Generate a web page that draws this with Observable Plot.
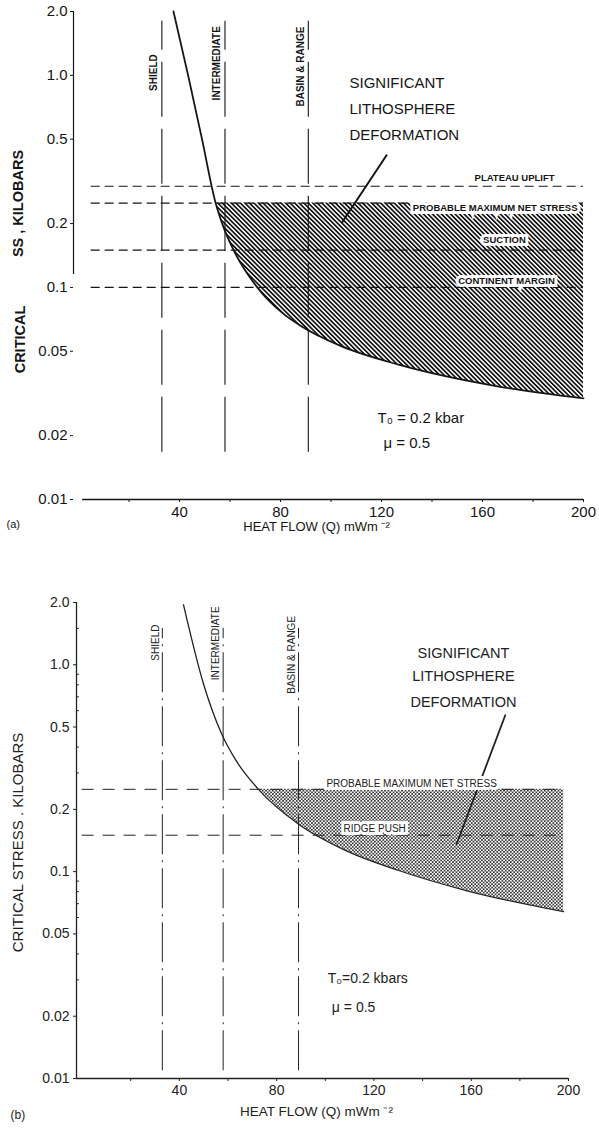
<!DOCTYPE html>
<html>
<head>
<meta charset="utf-8">
<script src="https://cdn.jsdelivr.net/npm/d3@7"></script>
<script src="https://cdn.jsdelivr.net/npm/@observablehq/plot@0.6"></script>
<style>
  body { margin: 0; background: #fff; }
  #chart svg { display: block; }
</style>
</head>
<body>
<div id="chart"></div>
<script>
// ---------- shared axis data ----------
const yTickValues = [0.01, 0.02, 0.05, 0.1, 0.2, 0.5, 1, 2];
const yTickLabels = ["0.01", "0.02", "0.05", "0.1", "0.2", "0.5", "1.0", "2.0"];
const xTickValues = [20, 40, 60, 80, 100, 120, 140, 160, 180, 200];
const xTickLabels = ["", "40", "", "80", "", "120", "", "160", "", "200"];
const bMinorTicks = [0.03, 0.04, 0.06, 0.07, 0.08, 0.09, 0.3, 0.4, 0.6, 0.7, 0.8, 0.9, 1.5];
const xTitle = "HEAT FLOW (Q) mWm \u207B\u00B2";

// ---------- panel (a) ----------
const aCurveQ = [37.6, 43.4, 48.9, 54.3, 56.9, 61.4, 70.8, 81.2, 87.9, 103.8, 127.5, 167, 200];
const aCurveS = [2.0, 1.0, 0.5, 0.25, 0.2, 0.15, 0.1, 0.075, 0.066, 0.053, 0.043, 0.034, 0.030];
const aProvinces = ["SHIELD", "INTERMEDIATE", "BASIN & RANGE"];
const aProvinceQ = [33, 58, 91];
const aProvinceSpan = [0.0167, 1.8];
const aProvinceLabelS = [1.03, 1.14, 1.10];
const aStressNames = ["PLATEAU UPLIFT", "PROBABLE MAXIMUM NET STRESS", "SUCTION", "CONTINENT MARGIN"];
const aStressS = [0.30, 0.25, 0.15, 0.10];
const aStressSpan = [5, 200];
const aStressLabelQ = [172.7, 165, 168.7, 169.5];
const aStressLabelS = [0.33, 0.236, 0.167, 0.107];
const aMaxStress = 0.25;
const aDeform = ["SIGNIFICANT", "LITHOSPHERE", "DEFORMATION"];
const aDeformQ = [107.3, 107.3, 107.3];
const aDeformS = [0.916, 0.692, 0.521];
const aLeaderQ = [122, 104.4];
const aLeaderS = [0.42, 0.203];
const aParams = ["T\u2080 = 0.2 kbar", "\u03BC = 0.5"];
const aParamQ = [118.4, 120.8];
const aParamS = [0.0241, 0.0184];

// ---------- panel (b) ----------
const bCurveQ = [41.7, 49.9, 57.5, 63.6, 72.5, 88.9, 108.7, 130.5, 157.9, 198];
const bCurveS = [1.95, 0.81, 0.46, 0.34, 0.25, 0.17, 0.126, 0.101, 0.081, 0.064];
const bProvinces = ["SHIELD", "INTERMEDIATE", "BASIN & RANGE"];
const bProvinceQ = [33, 58, 89];
const bProvinceSpan = [0.0109, 1.5];
const bProvinceLabelS = [1.28, 1.27, 1.117];
const bStressNames = ["PROBABLE MAXIMUM NET STRESS", "RIDGE PUSH"];
const bStressS = [0.25, 0.15];
const bStressSpan = [0, 198];
const bStressLabelQ = [135.5, 120.3];
const bStressLabelS = [0.266, 0.1614];
const bMaxStress = 0.25;
const bDeform = ["SIGNIFICANT", "LITHOSPHERE", "DEFORMATION"];
const bDeformQ = [156.8, 156.8, 156.8];
const bDeformS = [1.14, 0.875, 0.655];
const bLeaderQ = [174, 154];
const bLeaderS = [0.57, 0.136];
const bParams = ["T\u2080=0.2 kbars", "\u03BC = 0.5"];
const bParamQ = [101, 102.7];
const bParamS = [0.0304, 0.022];

// ---------- helpers ----------
const FONT = "'Liberation Sans', Arial, Helvetica, sans-serif";
const INK = "#151515";
const zip = (qs, ss) => qs.map((q, i) => ({q, s: ss[i]}));
const yFmt = new Map(yTickValues.map((v, i) => [v, yTickLabels[i]]));
const xFmt = new Map(xTickValues.map((v, i) => [v, xTickLabels[i]]));

// ---------- panel (a) plot ----------
const aCurve = zip(aCurveQ, aCurveS);
const aArea = aCurve.filter(d => d.s <= aMaxStress);

const svgA = Plot.plot({
  width: 599, height: 545,
  marginTop: 11, marginBottom: 46, marginLeft: 73, marginRight: 16,
  style: {fontFamily: FONT, fontSize: "15px", color: INK, background: "#fff"},
  x: {domain: [-2, 200], ticks: xTickValues, tickFormat: d => xFmt.get(d), tickSize: 3, tickPadding: 4, label: null},
  y: {type: "log", domain: [0.01, 2], ticks: yTickValues, tickFormat: d => yFmt.get(d), tickSize: 3, tickPadding: 3, label: null},
  marks: [
    Plot.areaY(aArea, {x: "q", y1: "s", y2: aMaxStress, curve: "monotone-x", fill: INK}),
    Plot.ruleY(aStressS, {y: d => d, x1: aStressSpan[0], x2: aStressSpan[1], stroke: INK, strokeWidth: 1.2, strokeDasharray: "9,5"}),
    Plot.ruleX(aProvinceQ, {x: d => d, y1: aProvinceSpan[0], y2: aProvinceSpan[1], stroke: INK, strokeWidth: 1.1, strokeDasharray: "55,12"}),
    Plot.line(aCurve, {x: "q", y: "s", curve: "monotone-x", stroke: INK, strokeWidth: 1.8}),
    Plot.ruleX([-2], {y1: 0.115, y2: 2, stroke: INK, strokeWidth: 1.2}),
    Plot.ruleY([0.01], {x1: 1.6, x2: 200, stroke: INK, strokeWidth: 1.5}),
    Plot.text(aStressNames, {x: aStressLabelQ, y: aStressLabelS, text: d => d, fontSize: 9.5, fontWeight: "bold", fill: INK, stroke: "#fff", strokeWidth: 6, strokeLinejoin: "miter"}),
    Plot.text(aProvinces, {x: aProvinceQ, y: aProvinceLabelS, text: d => d, rotate: -90, dx: -8, fontSize: 10, fontWeight: "bold", fill: INK}),
    Plot.text(aDeform, {x: aDeformQ, y: aDeformS, text: d => d, textAnchor: "start", fontSize: 15, fill: INK}),
    Plot.line(zip(aLeaderQ, aLeaderS), {x: "q", y: "s", stroke: INK, strokeWidth: 2}),
    Plot.text(aParams, {x: aParamQ, y: aParamS, text: d => d, textAnchor: "start", fontSize: 15, fill: INK}),
    Plot.text(["SS , KILOBARS"], {frameAnchor: "left", textAnchor: "middle", rotate: -90, dx: -55, dy: -52, fontSize: 14.5, fontWeight: "bold", fill: INK}),
    Plot.text(["CRITICAL"], {frameAnchor: "left", textAnchor: "middle", rotate: -90, dx: -53, dy: 84, fontSize: 14.5, fontWeight: "bold", fill: INK}),
    Plot.text([xTitle], {frameAnchor: "bottom", textAnchor: "middle", dx: -12, dy: 31, fontSize: 13, fill: INK}),
    Plot.text(["(a)"], {frameAnchor: "bottom-left", textAnchor: "start", dx: -67, dy: 28, fontSize: 11, fill: INK})
  ]
});

// ---------- panel (b) plot ----------
const bCurve = zip(bCurveQ, bCurveS);
const bArea = bCurve.filter(d => d.s <= bMaxStress);

const svgB = Plot.plot({
  width: 599, height: 589,
  marginTop: 57, marginBottom: 56, marginLeft: 76, marginRight: 31,
  style: {fontFamily: FONT, fontSize: "14px", color: "#222", background: "#fff"},
  x: {domain: [-2.3, 200], ticks: xTickValues, tickFormat: d => xFmt.get(d), tickSize: 3, tickPadding: 4, label: null},
  y: {type: "log", domain: [0.01, 2], ticks: yTickValues, tickFormat: d => yFmt.get(d), tickSize: 3, tickPadding: 4, label: null},
  marks: [
    Plot.areaY(bArea, {x: "q", y1: "s", y2: bMaxStress, curve: "monotone-x", fill: "#222"}),
    Plot.ruleY(bStressS, {y: d => d, x1: bStressSpan[0], x2: bStressSpan[1], stroke: "#222", strokeWidth: 1, strokeDasharray: "12,9"}),
    Plot.ruleX(bProvinceQ, {x: d => d, y1: bProvinceSpan[0], y2: bProvinceSpan[1], stroke: "#222", strokeWidth: 1, strokeDasharray: "40,6,2,6"}),
    Plot.line(bCurve, {x: "q", y: "s", curve: "monotone-x", stroke: "#222", strokeWidth: 1.3}),
    Plot.ruleY(bMinorTicks, {y: d => d, x1: -2.3, x2: -1.1, stroke: "#222", strokeWidth: 1}),
    Plot.ruleX([-2.3], {y1: 0.01, y2: 2, stroke: "#222", strokeWidth: 1.3}),
    Plot.ruleY([0.01], {x1: -2.3, x2: 200, stroke: "#222", strokeWidth: 1.5}),
    Plot.line(zip(bLeaderQ, bLeaderS), {x: "q", y: "s", stroke: "#222", strokeWidth: 1.8}),
    Plot.text(bStressNames, {x: bStressLabelQ, y: bStressLabelS, text: d => d, fontSize: 10, fill: "#222", stroke: "#fff", strokeWidth: 6, strokeLinejoin: "miter"}),
    Plot.text(bProvinces, {x: bProvinceQ, y: bProvinceLabelS, text: d => d, rotate: -90, dx: -7, fontSize: 10, fill: "#222"}),
    Plot.text(bDeform, {x: bDeformQ, y: bDeformS, text: d => d, fontSize: 14.5, fill: "#222"}),
    Plot.text(bParams, {x: bParamQ, y: bParamS, text: d => d, textAnchor: "start", fontSize: 14, fill: "#222"}),
    Plot.text(["CRITICAL STRESS . KILOBARS"], {frameAnchor: "left", textAnchor: "middle", rotate: -90, dx: -58, dy: 2, fontSize: 15, fill: "#222"}),
    Plot.text([xTitle], {frameAnchor: "bottom", textAnchor: "middle", dx: -6, dy: 37, fontSize: 13.5, fill: "#222"}),
    Plot.text(["(b)"], {frameAnchor: "bottom-left", textAnchor: "start", dx: -66, dy: 40, fontSize: 12, fill: "#222"})
  ]
});

// ---------- fill patterns ----------
function addPatterns(svg, id, kind) {
  const root = d3.select(svg);
  const defs = root.insert("defs", ":first-child");
  if (kind === "hatch") {
    const p = defs.append("pattern").attr("id", id).attr("patternUnits", "userSpaceOnUse")
      .attr("width", 3.2).attr("height", 3.2).attr("patternTransform", "rotate(-45)");
    p.append("rect").attr("width", 3.2).attr("height", 3.2).attr("fill", "#fff");
    p.append("rect").attr("width", 1.7).attr("height", 3.2).attr("fill", "#111");
  } else {
    const p = defs.append("pattern").attr("id", id).attr("patternUnits", "userSpaceOnUse")
      .attr("width", 3.4).attr("height", 3.4);
    p.append("rect").attr("width", 3.4).attr("height", 3.4).attr("fill", "#fff");
    p.append("circle").attr("cx", 0.85).attr("cy", 0.85).attr("r", 0.9).attr("fill", "#1a1a1a");
    p.append("circle").attr("cx", 2.55).attr("cy", 2.55).attr("r", 0.9).attr("fill", "#1a1a1a");
  }
  root.selectAll('g[aria-label="area"]').attr("fill", `url(#${id})`);
  root.selectAll('g[aria-label="area"] path').attr("fill", `url(#${id})`);
}
addPatterns(svgA, "hatchA", "hatch");
addPatterns(svgB, "dotsB", "dots");

const chart = document.getElementById("chart");
chart.appendChild(svgA);
chart.appendChild(svgB);
</script>
</body>
</html>
